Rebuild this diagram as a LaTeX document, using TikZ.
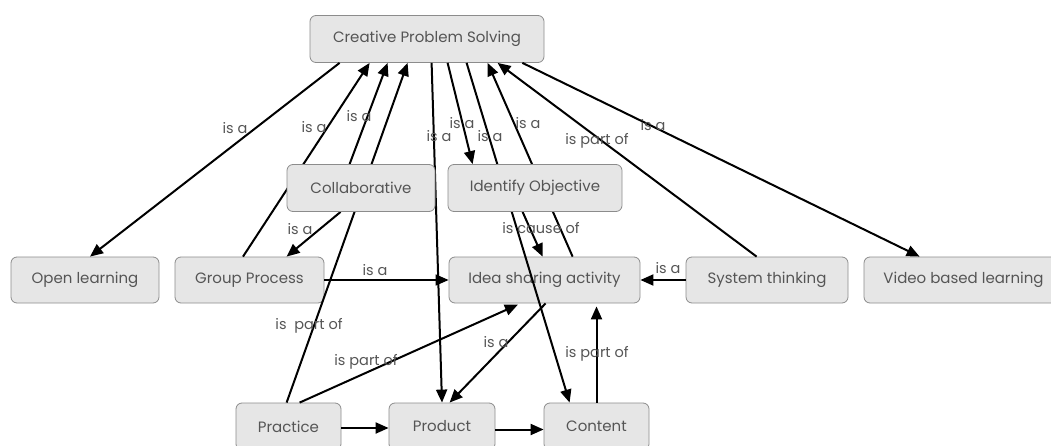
\documentclass[tikz,border=0pt]{standalone}
\usepackage{fontspec}
\setmainfont{Poppins}
\usetikzlibrary{arrows.meta}
\pgfdeclarelayer{front}
\pgfsetlayers{main,front}
\definecolor{boxfill}{HTML}{E6E6E6}
\definecolor{boxline}{HTML}{8C8C8C}
\definecolor{inkgray}{HTML}{555555}
\tikzset{
  concept/.style={draw=boxline, fill=boxfill, rounded corners=6pt, line width=0.8pt,
    minimum height=47pt, inner sep=0pt, text=inkgray, font=\fontsize{15}{17}\selectfont},
  link/.style={line width=2pt, -{Triangle[length=13pt,width=11pt]}},
  thinlink/.style={line width=1.4pt, -{Triangle[length=13pt,width=11pt]}},
  lbl/.style={inner sep=0pt, text=inkgray, font=\fontsize{14.5}{16}\selectfont}
}
\begin{document}
\begin{tikzpicture}[x=1pt,y=-1pt]
\useasboundingbox (0,0) rectangle (1051,446);

% concepts
\node[concept, minimum width=234pt] (cps) at (427,39) {Creative Problem Solving};
\begin{pgfonlayer}{front}
\node[concept, minimum width=148pt] (collab) at (361,188) {Collaborative};
\node[concept, minimum width=174pt] (ident) at (535,188) {Identify Objective};
\end{pgfonlayer}
\node[concept, minimum width=148pt, minimum height=46pt] (open) at (85,280) {Open learning};
\node[concept, minimum width=149pt, minimum height=46pt] (group) at (249.5,280) {Group Process};
\node[concept, minimum width=191pt, minimum height=46pt] (idea) at (544.5,280) {Idea sharing activity};
\node[concept, minimum width=162pt, minimum height=46pt] (sys) at (767,280) {System thinking};
\node[concept, minimum width=199pt, minimum height=46pt] (video) at (963.5,280) {Video based learning};
\node[concept, minimum width=105pt] (practice) at (288.5,426.5) {Practice};
\node[concept, minimum width=106pt] (product) at (442,426.5) {Product};
\node[concept, minimum width=105pt] (content) at (596.5,426.5) {Content};

% links
\draw[link] ([xshift=30pt]cps.south west) -- ([xshift=5pt]open.north);
\draw[link] ([xshift=-6.5pt]group.north) -- ([xshift=60pt]cps.south west);
\draw[link] ([xshift=63pt]collab.north west) -- ([xshift=78pt]cps.south west);
\draw[link] ([xshift=51pt]practice.north west) -- ([xshift=98pt]cps.south west);
\draw[link] ([xshift=122pt]cps.south west) -- (product.north);
\draw[link] ([xshift=138pt]cps.south west) -- ([xshift=25pt]ident.north west);
\draw[link] ([xshift=157pt]cps.south west) -- ([xshift=26pt]content.north west);
\draw[link] ([xshift=124pt]idea.north west) -- ([xshift=178pt]cps.south west);
\draw[link] ([xshift=75pt]ident.south west) -- ([xshift=94pt]idea.north west);
\draw[link] ([xshift=71pt]sys.north west) -- ([xshift=188pt]cps.south west);
\draw[link] ([xshift=-22pt]cps.south east) -- ([xshift=56pt]video.north west);
\draw[link] ([xshift=54pt]collab.south west) -- ([xshift=112pt]group.north west);
\draw[thinlink] (group.east) -- (idea.west);
\draw[link] (sys.west) -- (idea.east);
\draw[link, shorten >=3pt] ([xshift=64pt]practice.north west) -- ([xshift=72pt]idea.south west);
\draw[link] ([xshift=97pt]idea.south west) -- ([xshift=61pt]product.north west);
\draw[link, shorten >=3pt] (content.north) -- (content.north |- idea.south);
\draw[link] ([yshift=-1.5pt]practice.east) -- ([yshift=-1.5pt]product.west);
\draw[link] ([yshift=-3pt]product.east) -- ([yshift=-3pt]content.west);

% link phrases
\node[lbl] (l1) at (235,128) {is a};
\node[lbl] (l2) at (314,127) {is a};
\node[lbl] (l3) at (359,116) {is a};
\node[lbl] (l4) at (439,136) {is a};
\node[lbl] (l5) at (462,123) {is a};
\node[lbl] (l6) at (490,136) {is a};
\node[lbl] (l7) at (528,123) {is a};
\node[lbl] (l8) at (597,141) {is part of};
\node[lbl] (l9) at (653,125) {is a};
\node[lbl] (l10) at (541,228) {is cause of};
\node[lbl] (l11) at (300,229) {is a};
\node[lbl] (l12) at (375,270) {is a};
\node[lbl] (l13) at (668,268) {is a};
\node[lbl] (l14) at (309,326) {is\ \ part of};
\node[lbl] (l15) at (366,362) {is part of};
\node[lbl] (l16) at (496,342) {is a};
\node[lbl] (l17) at (597,354) {is part of};
\end{tikzpicture}
\end{document}
